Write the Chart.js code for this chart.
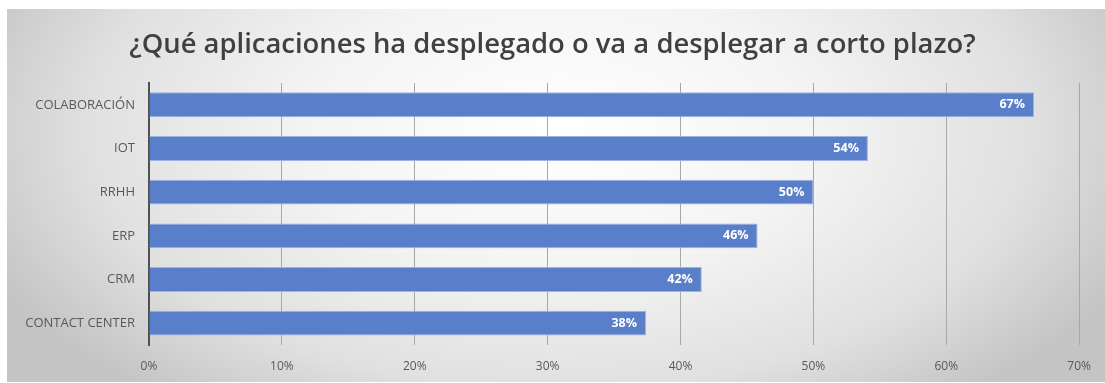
<!DOCTYPE html>
<html>
<head>
<meta charset="utf-8">
<script src="https://cdn.jsdelivr.net/npm/chart.js@4.4.0/dist/chart.umd.min.js"></script>
<style>
  html, body { margin: 0; padding: 0; background: #ffffff; }
  #wrap { width: 1105px; height: 383px; position: relative; }
</style>
</head>
<body>
<div id="wrap"><canvas id="c" width="1105" height="383"></canvas></div>
<script>
const titleText = "¿Qué aplicaciones ha desplegado o va a desplegar a corto plazo?";
const categories = ["COLABORACIÓN", "IOT", "RRHH", "ERP", "CRM", "CONTACT CENTER"];
const values = [66.6, 54.1, 50.0, 45.8, 41.6, 37.4];
const valueLabels = ["67%", "54%", "50%", "46%", "42%", "38%"];
const tickValues = [0, 10, 20, 30, 40, 50, 60, 70];

const bgPlugin = {
  id: 'bg',
  beforeDraw(chart) {
    const ctx = chart.ctx;
    ctx.save();
    ctx.fillStyle = '#ffffff';
    ctx.fillRect(0, 0, chart.width, chart.height);
    const x0 = 7, y0 = 9, w = chart.width - 7, h = 373;
    const cx = 560, cy = 130;
    ctx.beginPath();
    ctx.rect(x0, y0, w, h);
    ctx.clip();
    ctx.translate(cx, cy);
    ctx.scale(1, 0.55);
    const g = ctx.createRadialGradient(0, 0, 0, 0, 0, 630);
    g.addColorStop(0, '#ffffff');
    g.addColorStop(0.4, '#f4f4f4');
    g.addColorStop(0.75, '#e0e0e0');
    g.addColorStop(1, '#c4c4c4');
    ctx.fillStyle = g;
    ctx.fillRect(-cx - 10, -cy / 0.55 - 20, chart.width + 40, (chart.height + 60) / 0.55);
    ctx.restore();
  }
};

const labelPlugin = {
  id: 'vlabels',
  afterDatasetsDraw(chart) {
    const ctx = chart.ctx;
    const meta = chart.getDatasetMeta(0);
    ctx.save();
    ctx.font = 'bold 12.5px "Open Sans"';
    ctx.fillStyle = '#ffffff';
    ctx.textAlign = 'right';
    ctx.textBaseline = 'middle';
    meta.data.forEach((bar, i) => {
      ctx.fillText(valueLabels[i], bar.x - 9, bar.y);
    });
    ctx.restore();
  }
};

new Chart(document.getElementById('c'), {
  type: 'bar',
  data: {
    labels: categories,
    datasets: [{
      data: values,
      backgroundColor: '#5a7fca',
      borderColor: '#9ab3e0',
      borderWidth: 1,
      borderSkipped: 'start',
      categoryPercentage: 1,
      barPercentage: 0.57
    }]
  },
  options: {
    indexAxis: 'y',
    responsive: false,
    animation: false,
    devicePixelRatio: 1,
    layout: { padding: { left: 24, right: 24, top: 0, bottom: 0 } },
    plugins: {
      legend: { display: false },
      tooltip: { enabled: false },
      title: {
        display: true,
        text: titleText,
        color: '#404040',
        font: { family: '"Open Sans"', size: 27.4, weight: '600', lineHeight: 1.2 },
        padding: { top: 29, bottom: 21.1 }
      }
    },
    scales: {
      x: {
        min: 0,
        max: 70,
        afterBuildTicks(scale) { scale.ticks = tickValues.map(v => ({ value: v })); },
        afterFit(scale) { scale.height = 38; },
        grid: { color: '#a8a8a8', lineWidth: 1, drawTicks: false },
        border: { display: false },
        ticks: {
          padding: 14,
          color: '#595959',
          font: { family: '"Open Sans"', size: 12 },
          callback: (v) => v + '%'
        }
      },
      y: {
        afterFit(scale) { scale.width = 125; },
        grid: { display: false, drawTicks: false },
        border: { display: true, color: '#505050', width: 2 },
        ticks: {
          padding: 14,
          color: '#595959',
          font: { family: '"Open Sans"', size: 13 }
        }
      }
    }
  },
  plugins: [bgPlugin, labelPlugin]
});
</script>
</body>
</html>
